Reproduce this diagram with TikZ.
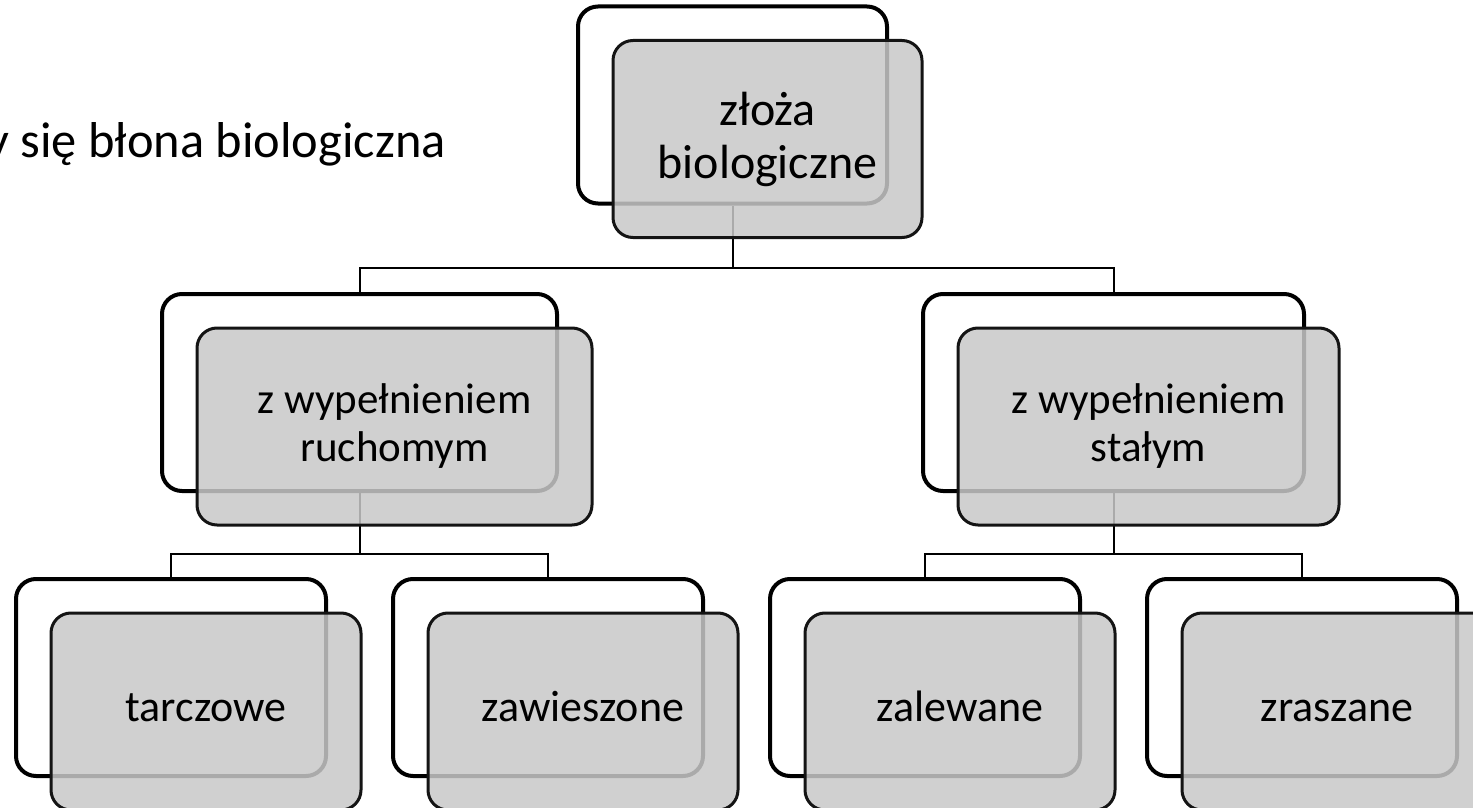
\documentclass[tikz,border=0pt]{standalone}
\usepackage{fontspec}
\setmainfont{Carlito}
\usetikzlibrary{positioning}
\newcommand{\CardHeight}{98.5pt}
\newcommand{\CardRound}{10pt}
\newcommand{\CardShift}{(35,34)}
\definecolor{CardGray}{RGB}{200,200,200}
\definecolor{CardLine}{RGB}{20,20,20}
\tikzset{
  backcard/.style={draw=black, line width=2pt, fill=white, rounded corners=\CardRound,
    minimum height=\CardHeight, inner sep=0pt},
  frontcard/.style={draw=CardLine, line width=1.5pt, fill=CardGray, fill opacity=0.85,
    text opacity=1, rounded corners=\CardRound, minimum height=\CardHeight,
    inner sep=0pt, align=center},
  leafcard/.style={frontcard, minimum width=155pt, execute at begin node=\strut},
  link/.style={draw=black, line width=1pt},
}

\begin{document}
\begin{tikzpicture}[x=0.5pt,y=-0.5pt]
  \tikzstyle{every node}=[font=\fontsize{22}{24}\selectfont]
  \useasboundingbox (0,0) rectangle (1473,808);
  \clip (0,0) rectangle (1473,808);

  % Title line, cut by the left edge
  \node[anchor=base west, inner sep=0pt, font=\fontsize{25.2}{29}\selectfont] (title) at (-14,157) {y się błona biologiczna};

  % Back cards
  \node[backcard, minimum width=154.5pt] (rootBack) at (732.5,105) {};
  \node[backcard, minimum width=197.5pt] (movBack)  at (359.5,392.5) {};
  \node[backcard, minimum width=190.5pt] (fixBack)  at (1113.5,392.5) {};
  \node[backcard, minimum width=155pt]   (diskBack) at (171,677.5) {};
  \node[backcard, minimum width=155pt]   (suspBack) at (548,677.5) {};
  \node[backcard, minimum width=155pt]   (floodBack) at (925,677.5) {};
  \node[backcard, minimum width=155pt]   (sprayBack) at (1302,677.5) {};

  % Connectors
  \coordinate (busTop)   at ([yshift=-31pt]rootBack.south);
  \coordinate (busLeft)  at ([yshift=-30.5pt]movBack.south);
  \coordinate (busRight) at ([yshift=-30.5pt]fixBack.south);
  \draw[link] (rootBack.south) -- (busTop) -| (movBack.north);
  \draw[link] (busTop) -| (fixBack.north);
  \draw[link] (movBack.south) -- (busLeft) -| (diskBack.north);
  \draw[link] (busLeft) -| (suspBack.north);
  \draw[link] (fixBack.south) -- (busRight) -| (floodBack.north);
  \draw[link] (busRight) -| (sprayBack.north);

  % Front cards
  \node[frontcard, minimum width=154.5pt, font=\fontsize{24}{26.5}\selectfont] (root) at ([shift=\CardShift]rootBack.center) {złoża\\biologiczne};
  \node[frontcard, minimum width=197.5pt, font=\fontsize{21.5}{24}\selectfont] (mov) at ([shift=\CardShift]movBack.center) {z wypełnieniem\\ruchomym};
  \node[frontcard, minimum width=190.5pt, font=\fontsize{21.5}{24}\selectfont] (fix) at ([shift=\CardShift]fixBack.center) {z wypełnieniem\\stałym};
  \node[leafcard] (disk)  at ([shift=\CardShift]diskBack.center) {tarczowe};
  \node[leafcard] (susp)  at ([shift=\CardShift]suspBack.center) {zawieszone};
  \node[leafcard] (flood) at ([shift=\CardShift]floodBack.center) {zalewane};
  \node[leafcard] (spray) at ([shift=\CardShift]sprayBack.center) {zraszane};
\end{tikzpicture}
\end{document}
